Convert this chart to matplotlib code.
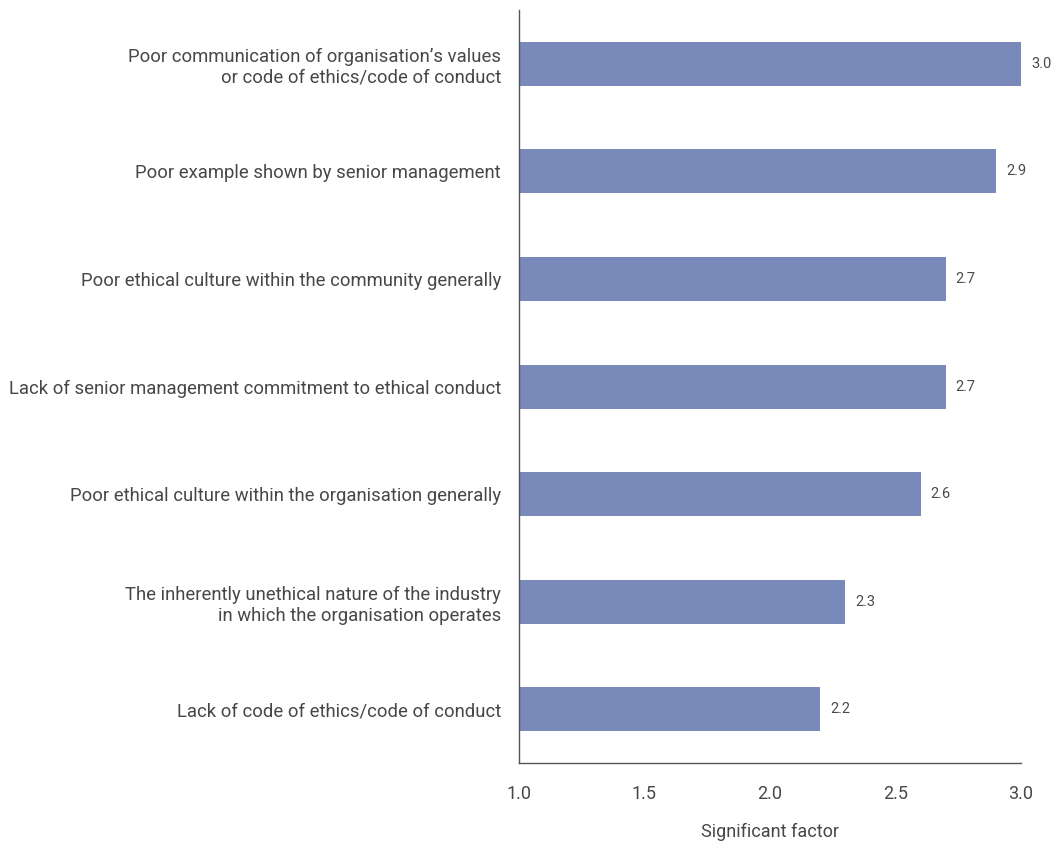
import matplotlib
matplotlib.use('Agg')
import matplotlib.pyplot as plt

plt.rcParams['font.family'] = ['Roboto', 'DejaVu Sans']

# data, top to bottom as in the picture
labels = [
    "Poor communication of organisation\u2019s values\nor code of ethics/code of conduct",
    "Poor example shown by senior management",
    "Poor ethical culture within the community generally",
    "Lack of senior management commitment to ethical conduct",
    "Poor ethical culture within the organisation generally",
    "The inherently unethical nature of the industry\nin which the organisation operates",
    "Lack of code of ethics/code of conduct",
]
values = [3.0, 2.9, 2.7, 2.7, 2.6, 2.3, 2.2]
xticks = [1.0, 1.5, 2.0, 2.5, 3.0]

bar_color = '#7889ba'
text_color = '#474747'

fig = plt.figure(figsize=(10.54, 8.43), dpi=100)
ax = fig.add_axes([0.4924, 0.0949, 0.4763, 0.8931])

ypos = list(range(len(labels)))
ax.barh(ypos, [v - 1.0 for v in values], left=1.0, height=0.41, color=bar_color)

for y, v in zip(ypos, values):
    ax.text(v + 0.04, y, f"{v:.1f}", va='center', ha='left', fontsize=10.5,
            color='#4a4a4a')

ax.set_xlim(1.0, 3.0)
ax.set_ylim(len(labels) - 0.5, -0.5)
ax.set_yticks(ypos)
ax.set_yticklabels(labels, fontsize=13.3, color=text_color, linespacing=1.2)
ax.set_xticks(xticks)
ax.set_xticklabels([f"{t:.1f}" for t in xticks], fontsize=13, color=text_color)
ax.tick_params(axis='both', length=0)
ax.tick_params(axis='x', pad=16)
ax.tick_params(axis='y', pad=13)

for s in ['top', 'right']:
    ax.spines[s].set_visible(False)
for s in ['left', 'bottom']:
    ax.spines[s].set_color('#555555')
    ax.spines[s].set_linewidth(1.0)

ax.set_xlabel("Significant factor", fontsize=13, color=text_color, labelpad=14)

fig.savefig('out.png', dpi=100)
